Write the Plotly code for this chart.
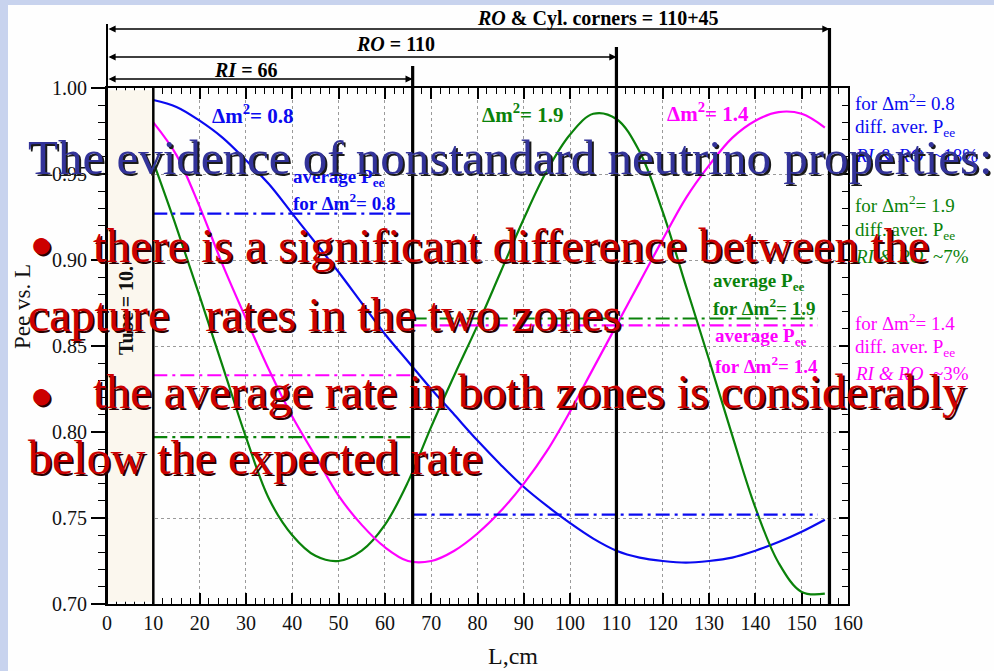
import plotly.graph_objects as go

# ---------------- data ----------------
L_grid = [10, 15, 20, 25, 30, 35, 40, 45, 50, 55, 60, 65, 70, 75, 80, 85, 90, 95, 100,
          105, 110, 115, 120, 125, 130, 135, 140, 145, 150, 155]
P_blue = [0.993, 0.989, 0.981, 0.971, 0.958, 0.944, 0.927, 0.910, 0.893, 0.875, 0.857,
          0.841, 0.825, 0.810, 0.795, 0.781, 0.768, 0.757, 0.747, 0.738, 0.731, 0.727,
          0.725, 0.724, 0.725, 0.727, 0.731, 0.736, 0.742, 0.749]
P_green = [0.957, 0.919, 0.879, 0.838, 0.797, 0.761, 0.740, 0.728, 0.725, 0.731, 0.746,
           0.771, 0.803, 0.833, 0.862, 0.893, 0.924, 0.952, 0.973, 0.985, 0.982, 0.963,
           0.928, 0.885, 0.842, 0.798, 0.756, 0.724, 0.707, 0.706]
P_mag = [0.980, 0.961, 0.931, 0.897, 0.866, 0.836, 0.809, 0.786, 0.763, 0.746, 0.733,
         0.725, 0.725, 0.731, 0.741, 0.754, 0.770, 0.789, 0.812, 0.837, 0.862, 0.887,
         0.912, 0.936, 0.955, 0.971, 0.981, 0.986, 0.985, 0.977]

zone_RI = [10, 66]
zone_RO = [66, 153.5]
avg_RI_blue, avg_RO_blue = 0.927, 0.752
avg_RI_green, avg_RO_green = 0.797, 0.866
avg_RI_mag, avg_RO_mag = 0.833, 0.862

tube_L = [0, 10]
boundaries = [66, 110, 156]          # RI, RO, RO & cyl. corners
x_ticks = list(range(0, 161, 10))

BLUE, GREEN, MAG = '#0A0AF0', '#0A820A', '#FF00FF'
SERIF = 'Liberation Serif'

# ---------------- geometry helpers ----------------
W, H = 994, 671
ML, MR, MT, MB = 107, 146, 88, 67
PW, PH = W - ML - MR, H - MT - MB
XMIN, XMAX = 0, 160


def px_x(px):
    return (px - ML) / PW


def px_y(py):
    return (H - MB - py) / PH


def dx(L):
    return (L - XMIN) / (XMAX - XMIN)


fig = go.Figure()

# curves
for P, c in [(P_blue, BLUE), (P_green, GREEN), (P_mag, MAG)]:
    fig.add_trace(go.Scatter(x=L_grid, y=P, mode='lines',
                             line=dict(color=c, width=2.2, shape='spline', smoothing=1.0),
                             hoverinfo='skip'))

# averages
DASH = '14px,5px,3px,5px'
for zone, v, c in [(zone_RI, avg_RI_blue, BLUE), (zone_RO, avg_RO_blue, BLUE),
                   (zone_RI, avg_RI_green, GREEN), (zone_RO, avg_RO_green, GREEN),
                   (zone_RI, avg_RI_mag, MAG), (zone_RO, avg_RO_mag, MAG)]:
    fig.add_trace(go.Scatter(x=zone, y=[v, v], mode='lines',
                             line=dict(color=c, width=2.2, dash=DASH), hoverinfo='skip'))

# dummy trace for right axis
fig.add_trace(go.Scatter(x=[], y=[], yaxis='y2', hoverinfo='skip'))

shapes = []
# slide background
shapes.append(dict(type='rect', xref='paper', yref='paper', layer='below',
                   x0=px_x(8), x1=px_x(W + 5), y0=px_y(H + 5), y1=px_y(5),
                   fillcolor='#FEFEFE', line=dict(width=0)))
# tube
shapes.append(dict(type='rect', xref='x', yref='y', layer='above',
                   x0=tube_L[0] + 0.25, x1=tube_L[1], y0=0.7013, y1=0.9987,
                   fillcolor='#FBF7EE', line=dict(width=0)))
# vertical lines
shapes.append(dict(type='line', xref='paper', yref='paper', x0=dx(tube_L[0]), x1=dx(tube_L[0]),
                   y0=0, y1=px_y(24), line=dict(color='black', width=2)))
shapes.append(dict(type='line', xref='paper', yref='paper', x0=dx(tube_L[1]), x1=dx(tube_L[1]),
                   y0=0, y1=1, line=dict(color='black', width=2.5)))
for L, top in zip(boundaries, [66, 47, 28]):
    shapes.append(dict(type='line', xref='paper', yref='paper', x0=dx(L), x1=dx(L),
                       y0=0, y1=px_y(top), line=dict(color='black', width=3.2)))

ann = []
# arrows
ppu = PW / (XMAX - XMIN)
for L, py in zip(boundaries, [79, 57, 29]):
    ann.append(dict(x=L, y=px_y(py), xref='x', yref='paper', text='', showarrow=True,
                    ax=-(L - tube_L[0]) * ppu, ay=0, axref='pixel', ayref='pixel',
                    arrowhead=2, arrowside='end+start', arrowsize=1.1, arrowwidth=1.3,
                    arrowcolor='black', standoff=0, startstandoff=0))


def txt(text, px, py, size, color='black', bold=False, xanchor='center', angle=0, shadow=None,
        sh=2):
    if bold:
        text = '<b>' + text + '</b>'
    if shadow:
        ann.append(dict(x=px_x(px), y=px_y(py), xref='paper', yref='paper', text=text,
                        showarrow=False, xanchor=xanchor, yanchor='middle', textangle=angle,
                        xshift=sh, yshift=-sh, font=dict(family=SERIF, size=size, color=shadow)))
    ann.append(dict(x=px_x(px), y=px_y(py), xref='paper', yref='paper', text=text,
                    showarrow=False, xanchor=xanchor, yanchor='middle', textangle=angle,
                    font=dict(family=SERIF, size=size, color=color)))


txt('<i>RI</i> = 66', 246, 70, 20, bold=True)
txt('<i>RO</i> = 110', 395, 44, 20, bold=True)
txt('<i>RO</i> & Cyl. corners = 110+45', 598, 19, 20, bold=True)

# axis titles
txt('Pee vs. L', 22, 307, 23, color='#111', angle=-90)
txt('L,cm', 513, 656, 24, color='#111')
txt('Tube = 10.', 126, 311, 20, color='#111', bold=True, angle=-90)

# in-chart labels
txt('Δm<sup>2</sup>= 0.8', 252, 115, 21, BLUE, bold=True)
txt('Δm<sup>2</sup>= 1.9', 522, 114, 21, GREEN, bold=True)
txt('Δm<sup>2</sup>= 1.4', 708, 113, 21, MAG, bold=True)
for (px, y1, y2, c, v) in [(291, 178, 202, BLUE, '0.8'), (711, 282, 307, GREEN, '1.9'),
                           (713, 337, 365, MAG, '1.4')]:
    txt('average P<sub>ee</sub>', px, y1, 19, c, bold=True, xanchor='left')
    txt('for Δm<sup>2</sup>= ' + v, px, y2, 19, c, bold=True, xanchor='left')

# right side notes
for (ys, c, v, pct) in [((102, 128, 155), BLUE, '0.8', '~18%'), ((204, 231, 256), GREEN, '1.9', '~7%'),
                        ((322, 348, 373), MAG, '1.4', '~3%')]:
    txt('for Δm<sup>2</sup>= ' + v, 853, ys[0], 19, c, xanchor='left')
    txt('diff. aver. P<sub>ee</sub>', 853, ys[1], 19, c, xanchor='left')
    txt('<i>RI & RO</i>  ' + pct, 853, ys[2], 19, c, xanchor='left')

# slide text
NAVY, RED = '#333399', '#CC0000'
txt('The evidence of nonstandard neutrino properties:', 26, 157, 49, NAVY, xanchor='left',
    shadow='#1a1a1a')
txt('●', 41, 244, 38, RED, shadow='#2a0000')
txt('there is a significant difference between the', 91, 245, 48, RED, xanchor='left',
    shadow='#2a0000')
txt('capture\u00a0\u00a0\u00a0rates in the two zones', 26, 314, 48, RED, xanchor='left',
    shadow='#2a0000')
txt('●', 41, 395, 38, RED, shadow='#2a0000')
txt('the average rate in both zones is considerably', 91, 392, 48, RED, xanchor='left',
    shadow='#2a0000')
txt('below the expected rate', 26, 458, 48, RED, xanchor='left', shadow='#2a0000')

fig.update_layout(
    width=W, height=H, margin=dict(l=ML, r=MR, t=MT, b=MB, pad=0),
    paper_bgcolor='#C8D3EE', plot_bgcolor='white', showlegend=False,
    font=dict(family=SERIF, color='#111'),
    shapes=shapes, annotations=ann,
    xaxis=dict(range=[XMIN, XMAX], tickvals=x_ticks, ticks='inside', ticklen=11, tickwidth=1.5,
               tickcolor='black', showline=True, linewidth=2, linecolor='black', mirror='ticks',
               showgrid=True, gridcolor='#9A9A9A', griddash='dot', gridwidth=1, zeroline=False,
               tickfont=dict(size=20, family=SERIF, color='#111'),
               minor=dict(dtick=2, ticklen=6, ticks='inside', tickcolor='black', tickwidth=1.2,
                          showgrid=False)),
    yaxis=dict(range=[0.70, 1.00], tick0=0.70, dtick=0.05, tickformat='.2f', ticks='outside',
               ticklen=14, tickwidth=1.5, tickcolor='black', showline=True, linewidth=2,
               linecolor='black', mirror=True, showgrid=True, gridcolor='#9A9A9A', griddash='dot',
               gridwidth=1, zeroline=False, tickfont=dict(size=20, family=SERIF, color='#111'),
               minor=dict(tick0=0.70, dtick=0.01, ticks='outside', ticklen=7, tickcolor='black',
                          tickwidth=1.2, showgrid=False)),
    yaxis2=dict(range=[0.70, 1.00], overlaying='y', side='right', tick0=0.70, dtick=0.05,
                ticks='inside', ticklen=9, tickwidth=1.5, tickcolor='black', showticklabels=False,
                showgrid=False, showline=False, zeroline=False,
                minor=dict(tick0=0.70, dtick=0.01, ticks='inside', ticklen=6, tickcolor='black',
                           tickwidth=1.2, showgrid=False)),
)

fig.write_html('out.html')
